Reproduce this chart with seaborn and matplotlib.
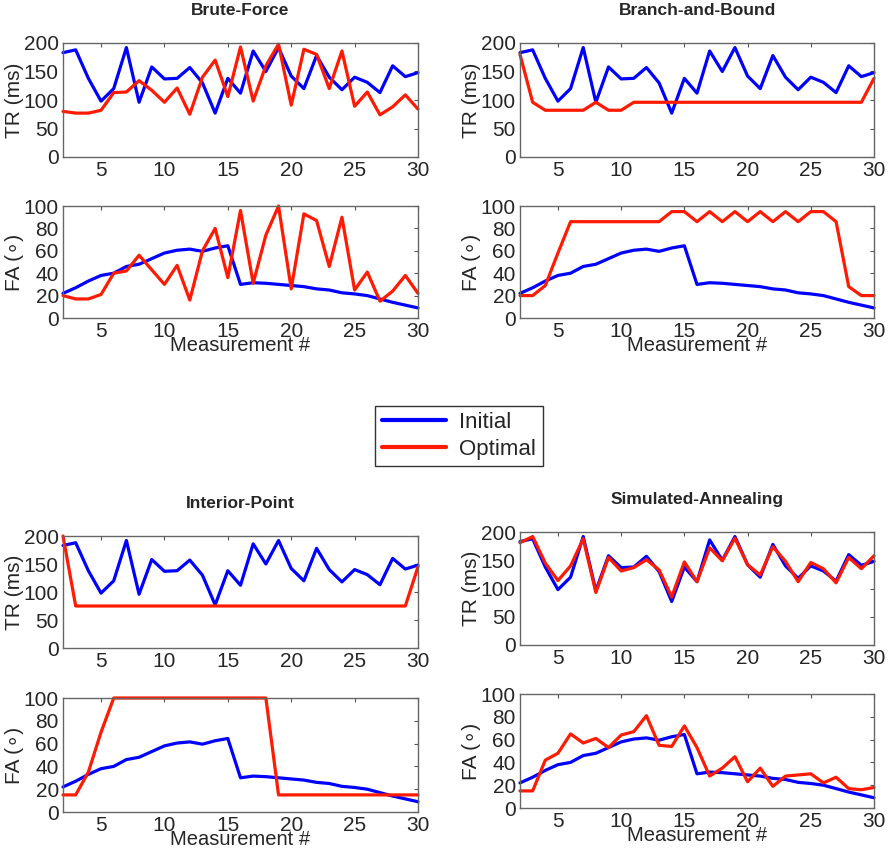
import numpy as np
import pandas as pd
import matplotlib
matplotlib.use('Agg')
import matplotlib.pyplot as plt
import seaborn as sns

measurement = list(range(2, 31))

tr_initial = [183, 188, 138, 98, 120, 192, 96, 158, 137, 138, 157, 130, 77, 138, 112,
              186, 150, 192, 142, 120, 178, 140, 118, 140, 131, 113, 160, 141, 148]
fa_initial = [22, 27, 33, 38, 40, 46, 48, 53, 58, 60.5, 61.5, 59.5, 62.5, 64.5, 30,
              31.5, 31, 30, 29, 28, 26, 25, 22.5, 21.5, 20, 17, 14, 11.5, 9]

tr_brute = [80, 77, 77, 82, 113, 114, 134, 117, 96, 121, 75, 140, 170, 106, 193,
            98, 160, 198, 91, 189, 180, 120, 186, 89, 114, 74, 88, 109, 84]
fa_brute = [20, 17, 17, 21, 40, 42, 56, 43, 30, 47, 16, 60, 80, 36, 96,
            31, 74, 100, 26, 93, 87, 46, 90, 25, 41, 15, 24, 38, 22]

tr_branch = [180, 96, 82, 82, 82, 82, 96, 82, 82, 96, 96, 96, 96, 96, 96,
             96, 96, 96, 96, 96, 96, 96, 96, 96, 96, 96, 96, 96, 138]
fa_branch = [20, 20, 29, 58, 86, 86, 86, 86, 86, 86, 86, 86, 95, 95, 86,
             95, 86, 95, 86, 95, 86, 95, 86, 95, 95, 86, 28, 20, 20]

tr_interior = [200, 75, 75, 75, 75, 75, 75, 75, 75, 75, 75, 75, 75, 75, 75,
               75, 75, 75, 75, 75, 75, 75, 75, 75, 75, 75, 75, 75, 145]
fa_interior = [15, 15, 35, 70, 100, 100, 100, 100, 100, 100, 100, 100, 100, 100, 100,
               100, 100, 15, 15, 15, 15, 15, 15, 15, 15, 15, 15, 15, 15]

tr_annealing = [181, 192, 145, 114, 140, 188, 93, 155, 131, 137, 151, 133, 85, 147, 112,
                172, 149, 189, 142, 124, 174, 148, 112, 146, 135, 110, 155, 135, 158]
fa_annealing = [15, 15, 42, 48, 65, 57, 61, 53, 64, 67, 81, 55, 54, 72, 53,
                28, 35, 45, 23, 35, 19, 28, 29, 30, 22, 27, 17, 16, 18]

methods = ["Brute-Force", "Branch-and-Bound", "Interior-Point", "Simulated-Annealing"]
optimal_tr = [tr_brute, tr_branch, tr_interior, tr_annealing]
optimal_fa = [fa_brute, fa_branch, fa_interior, fa_annealing]

sns.set_style("white")
plt.rcParams['font.family'] = ['Liberation Sans', 'DejaVu Sans']

W, H = 891, 848
fig = plt.figure(figsize=(W / 100, H / 100), dpi=100)


def px_axes(left, top, right, bottom):
    return fig.add_axes([left / W, 1 - bottom / H, (right - left) / W, (bottom - top) / H])


# pixel boxes: (left, right, tr_top, tr_bottom, fa_top, fa_bottom)
boxes = [
    (63, 418, 43, 157, 206, 318),
    (520, 874, 43, 157, 206, 318),
    (63, 418, 536, 648, 698, 812),
    (520, 874, 532, 645, 694, 808),
]

blue = '#0000ff'
red = '#ff1a00'


def style_ax(ax, ylim, yticks, ylabel):
    ax.set_xlim(2, 30)
    ax.set_ylim(*ylim)
    ax.set_xticks([5, 10, 15, 20, 25, 30])
    ax.set_yticks(yticks)
    ax.tick_params(direction='in', length=3, width=0.8, color='#555555',
                   top=True, right=True, labelsize=15, pad=3)
    for s in ax.spines.values():
        s.set_color('#666666')
        s.set_linewidth(1.0)
    ax.set_ylabel(ylabel, fontsize=15, labelpad=0)
    ax.set_xlabel("")
    for line in ax.get_lines():
        line.set_clip_on(False)


for i, name in enumerate(methods):
    left, right, t1, b1, t2, b2 = boxes[i]
    ax_tr = px_axes(left, t1, right, b1)
    sns.lineplot(x=measurement, y=tr_initial, color=blue, linewidth=2.3, ax=ax_tr)
    sns.lineplot(x=measurement, y=optimal_tr[i], color=red, linewidth=2.3, ax=ax_tr)
    style_ax(ax_tr, (0, 200), [0, 50, 100, 150, 200], "TR (ms)")
    ax_tr.set_title(name, fontsize=12.5, fontweight='bold', pad=20)

    ax_fa = px_axes(left, t2, right, b2)
    sns.lineplot(x=measurement, y=fa_initial, color=blue, linewidth=2.3, ax=ax_fa)
    sns.lineplot(x=measurement, y=optimal_fa[i], color=red, linewidth=2.3, ax=ax_fa)
    style_ax(ax_fa, (0, 100), [0, 20, 40, 60, 80, 100], "FA (∘)")
    ax_fa.set_xlabel("Measurement #", fontsize=14.5, labelpad=-4)

handles = [plt.Line2D([], [], color=blue, linewidth=3),
           plt.Line2D([], [], color=red, linewidth=3)]
leg = fig.legend(handles, ["Initial", "Optimal"], loc='center',
                 bbox_to_anchor=(459 / W, 1 - 436 / H), fontsize=16,
                 frameon=True, fancybox=False, edgecolor='black',
                 handlelength=2.9, borderpad=0.3, labelspacing=0.25,
                 handletextpad=0.6)
leg.get_frame().set_linewidth(1.0)

fig.savefig("out.png", dpi=100)
